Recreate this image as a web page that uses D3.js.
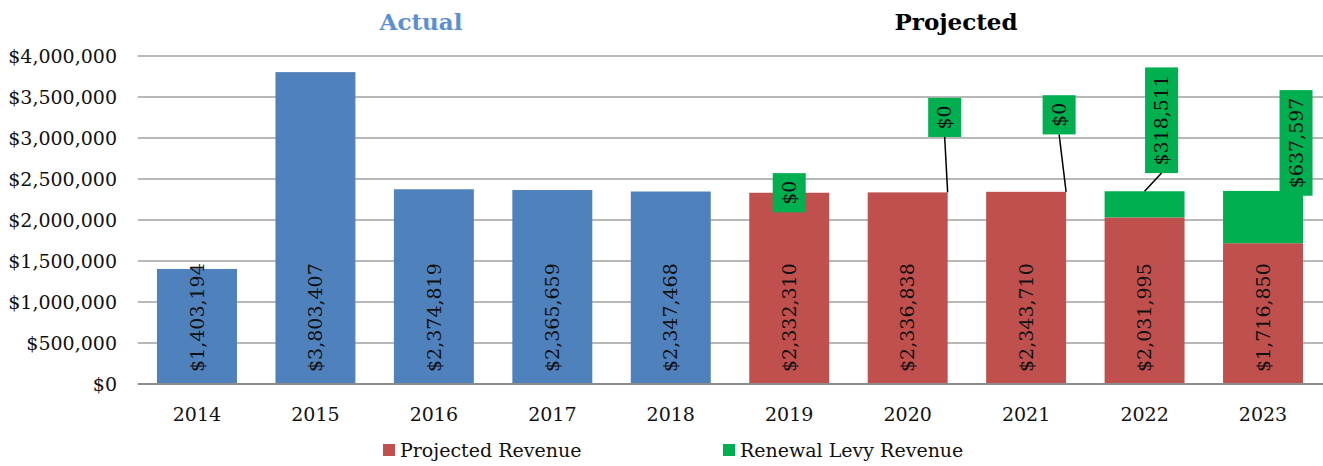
<!DOCTYPE html>
<html>
<head>
<meta charset="utf-8">
<script src="https://cdn.jsdelivr.net/npm/d3@7"></script>
<style>
  body { margin: 0; background: #fff; }
  svg { display: block; font-family: "DejaVu Serif", serif; }
</style>
</head>
<body>
<svg id="chart"></svg>
<script>
// chart data
const years = ['2014','2015','2016','2017','2018','2019','2020','2021','2022','2023'];
const actualRevenue = [1403194, 3803407, 2374819, 2365659, 2347468, null, null, null, null, null];
const projectedRevenue = [null, null, null, null, null, 2332310, 2336838, 2343710, 2031995, 1716850];
const levyRevenue = [null, null, null, null, null, 0, 0, 0, 318511, 637597];
const yTicks = [0, 500000, 1000000, 1500000, 2000000, 2500000, 3000000, 3500000, 4000000];
const legendLabels = ['Projected Revenue', 'Renewal Levy Revenue'];

// levy label boxes were dragged by hand in the original, offsets in px from bar top centre
const levyLabelShift = {
    '2019': {dx: 0, dy: 0, anchor: null},
    '2020': {dx: 37, dy: -75, anchor: 1},
    '2021': {dx: 33, dy: -77, anchor: 1},
    '2022': {dx: 17, dy: -71, anchor: 0.5},
    '2023': {dx: 33, dy: -48, anchor: null}
};

class RevenueChart {

    constructor( config ) {
        this.config = {
            parent: config.parent,
            width: config.width || 1323,
            height: config.height || 466,
            plot: config.plot,
            fontSize: config.fontSize || '19px'
        }
        this.init();
    }

    init() {
        let self = this;

        self.svg = d3.select( self.config.parent )
            .attr('width', self.config.width)
            .attr('height', self.config.height);

        self.xscale = d3.scaleBand()
            .domain(years)
            .range([self.config.plot.left, self.config.plot.right])
            .paddingInner(0.325)
            .paddingOuter(0.1625);

        self.yscale = d3.scaleLinear()
            .domain([0, 4000000])
            .range([self.config.plot.bottom, self.config.plot.top]);

        self.fmt = d => '$' + d3.format(',')(d);

        self.colors = {actual: '#4F81BD', projected: '#C0504D', levy: '#00B050'};
    }

    render() {
        let self = this;
        let p = self.config.plot;
        let fs = self.config.fontSize;

        // gridlines + y labels
        self.svg.append('g')
            .selectAll('line')
            .data(yTicks.slice(1))
            .join('line')
            .attr('x1', p.left).attr('x2', self.config.width)
            .attr('y1', d => self.yscale(d)).attr('y2', d => self.yscale(d))
            .style('stroke', '#A0A0A0')
            .style('stroke-width', 1.6);

        self.svg.append('g')
            .selectAll('text')
            .data(yTicks)
            .join('text')
            .attr('x', 117)
            .attr('y', d => self.yscale(d))
            .attr('dy', '0.35em')
            .attr('text-anchor', 'end')
            .style('font-size', fs)
            .style('fill', '#111')
            .text(self.fmt);

        let rows = years.map((y, i) => ({
            year: y,
            actual: actualRevenue[i],
            projected: projectedRevenue[i],
            levy: levyRevenue[i]
        }));

        let bw = self.xscale.bandwidth();

        // actual bars
        self.svg.append('g')
            .selectAll('rect')
            .data(rows.filter(d => d.actual != null))
            .join('rect')
            .attr('x', d => self.xscale(d.year))
            .attr('width', bw)
            .attr('y', d => self.yscale(d.actual))
            .attr('height', d => self.yscale(0) - self.yscale(d.actual))
            .style('fill', self.colors.actual);

        // projected stack
        let proj = rows.filter(d => d.projected != null);
        self.svg.append('g')
            .selectAll('rect')
            .data(proj)
            .join('rect')
            .attr('x', d => self.xscale(d.year))
            .attr('width', bw)
            .attr('y', d => self.yscale(d.projected))
            .attr('height', d => self.yscale(0) - self.yscale(d.projected))
            .style('fill', self.colors.projected);

        self.svg.append('g')
            .selectAll('rect')
            .data(proj.filter(d => d.levy > 0))
            .join('rect')
            .attr('x', d => self.xscale(d.year))
            .attr('width', bw)
            .attr('y', d => self.yscale(d.projected + d.levy))
            .attr('height', d => self.yscale(d.projected) - self.yscale(d.projected + d.levy))
            .style('fill', self.colors.levy);

        // zero axis line
        self.svg.append('line')
            .attr('x1', p.left).attr('x2', self.config.width)
            .attr('y1', self.yscale(0)).attr('y2', self.yscale(0))
            .style('stroke', '#8C8C8C')
            .style('stroke-width', 2);

        // inside-base labels
        self.svg.append('g')
            .selectAll('text')
            .data(rows)
            .join('text')
            .attr('transform', d => `translate(${self.xscale(d.year) + bw / 2}, ${self.yscale(0) - 12}) rotate(-90)`)
            .attr('dy', '0.35em')
            .style('font-size', fs)
            .style('fill', '#111')
            .text(d => self.fmt(d.actual != null ? d.actual : d.projected));

        // levy label boxes with leader lines
        let lg = self.svg.append('g');
        proj.forEach(function(d) {
            let s = levyLabelShift[d.year];
            let top = self.yscale(d.projected + d.levy);
            let cx = self.xscale(d.year) + bw / 2 + s.dx;
            let cy = top + s.dy;
            let t = lg.append('text')
                .attr('transform', `translate(${cx}, ${cy}) rotate(-90)`)
                .attr('text-anchor', 'middle')
                .attr('dy', '0.35em')
                .style('font-size', fs)
                .style('fill', '#111')
                .text(self.fmt(d.levy));
            let len = t.node().getComputedTextLength();
            let h = len + 15, w = 33;
            if (s.anchor != null) {
                lg.insert('line', 'text')
                    .attr('x1', cx).attr('y1', cy + h / 2)
                    .attr('x2', self.xscale(d.year) + bw * s.anchor).attr('y2', top)
                    .style('stroke', '#000')
                    .style('stroke-width', 1.5);
            }
            lg.insert('rect', 'text')
                .attr('x', cx - w / 2).attr('y', cy - h / 2)
                .attr('width', w).attr('height', h)
                .style('fill', self.colors.levy);
        });

        // x labels
        self.svg.append('g')
            .selectAll('text')
            .data(years)
            .join('text')
            .attr('x', d => self.xscale(d) + bw / 2)
            .attr('y', 421)
            .attr('text-anchor', 'middle')
            .style('font-size', fs)
            .style('fill', '#111')
            .text(d => d);

        // section titles
        self.svg.append('text')
            .attr('x', 421).attr('y', 30)
            .attr('text-anchor', 'middle')
            .style('font-size', '23px').style('font-weight', 'bold')
            .style('fill', '#5B8FD4')
            .text('Actual');
        self.svg.append('text')
            .attr('x', 956).attr('y', 30)
            .attr('text-anchor', 'middle')
            .style('font-size', '23px').style('font-weight', 'bold')
            .style('fill', '#000')
            .text('Projected');

        // legend
        let legX = [383, 723];
        let legC = [self.colors.projected, self.colors.levy];
        let leg = self.svg.append('g')
            .selectAll('g')
            .data(legendLabels)
            .join('g')
            .attr('transform', (d, i) => `translate(${legX[i]}, 450)`);
        leg.append('rect')
            .attr('x', 0).attr('y', -6)
            .attr('width', 12).attr('height', 12)
            .style('fill', (d, i) => legC[i]);
        leg.append('text')
            .attr('x', 17)
            .attr('dy', '0.35em')
            .style('font-size', fs)
            .style('fill', '#111')
            .text(d => d);
    }
}

let chart = new RevenueChart({
    parent: '#chart',
    width: 1323,
    height: 466,
    plot: {left: 137.75, right: 1322.25, top: 56, bottom: 384},
    fontSize: '19px'
});
chart.render();
</script>
</body>
</html>
